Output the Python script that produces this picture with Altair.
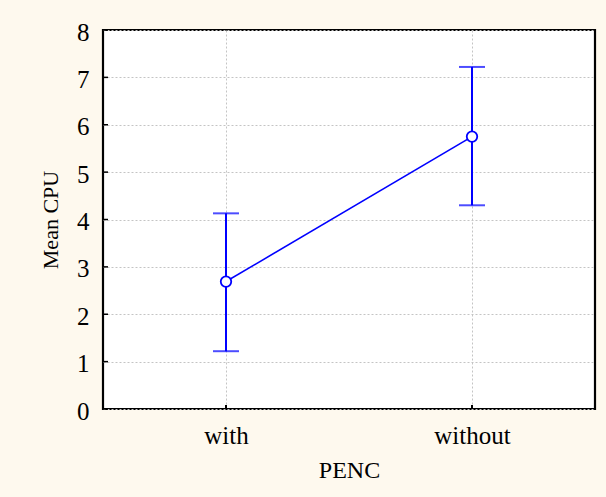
import altair as alt
import pandas as pd

categories = ["with", "without"]
means = [2.69, 5.75]
lower = [1.22, 4.30]
upper = [4.13, 7.22]
y_ticks = [0, 1, 2, 3, 4, 5, 6, 7, 8]

df = pd.DataFrame({"PENC": categories, "mean": means, "lo": lower, "hi": upper})
ytick_df = pd.DataFrame({"tick": y_ticks})

BLUE = "#0000FF"
FONT = "Liberation Serif"
W, H = 492, 379

x = alt.X("PENC:N", scale=alt.Scale(type="point", padding=0.5), sort=categories,
          axis=alt.Axis(title="PENC", labelAngle=0, grid=True, ticks=False,
                        labelPadding=14, titlePadding=10, titleFontSize=24))
y_scale = alt.Scale(domain=[0, 8], nice=False, zero=True)
y_axis = alt.Axis(title="Mean CPU", values=y_ticks, ticks=False, labelPadding=14,
                  labelOffset=2, titlePadding=14, grid=True, titleFontSize=22)

base = alt.Chart(df)

rules = base.mark_rule(color=BLUE, strokeWidth=2).encode(
    x=x, y=alt.Y("lo:Q", scale=y_scale, axis=y_axis), y2="hi:Q")
caps_hi = base.mark_tick(color=BLUE, size=26, thickness=2).encode(
    x=x, y=alt.Y("hi:Q", scale=y_scale))
caps_lo = base.mark_tick(color=BLUE, size=26, thickness=2).encode(
    x=x, y=alt.Y("lo:Q", scale=y_scale))
line = base.mark_line(color=BLUE, strokeWidth=1.6).encode(
    x=x, y=alt.Y("mean:Q", scale=y_scale))
pts = base.mark_point(shape="circle", filled=True, fill="white", stroke=BLUE,
                      strokeWidth=1.8, size=110, opacity=1).encode(
    x=x, y=alt.Y("mean:Q", scale=y_scale))

# inward tick marks
ytick_marks = alt.Chart(ytick_df).mark_rule(color="black", strokeWidth=1.5).encode(
    x=alt.value(0), x2=alt.value(5), y=alt.Y("tick:Q", scale=y_scale))
xtick_marks = base.mark_rule(color="black", strokeWidth=2).encode(
    x=x, y=alt.value(H), y2=alt.value(H - 4))

chart = alt.layer(ytick_marks, xtick_marks, rules, caps_hi, caps_lo, line, pts).properties(
    width=W, height=H,
    autosize=alt.AutoSizeParams(type="none"),
    padding={"left": 103, "top": 30, "right": 11, "bottom": 88},
    background="#FEF9EE",
).configure_view(
    fill="white", stroke="black", strokeWidth=2.2
).configure_axis(
    labelFont=FONT, titleFont=FONT, labelFontSize=25,
    labelColor="black", titleColor="black", titleFontWeight="normal",
    domain=False,
    gridColor="#c4c4c4", gridDash=[2, 2], gridWidth=1,
)

chart.save("out.html", embed_options={"renderer": "svg", "actions": False})
